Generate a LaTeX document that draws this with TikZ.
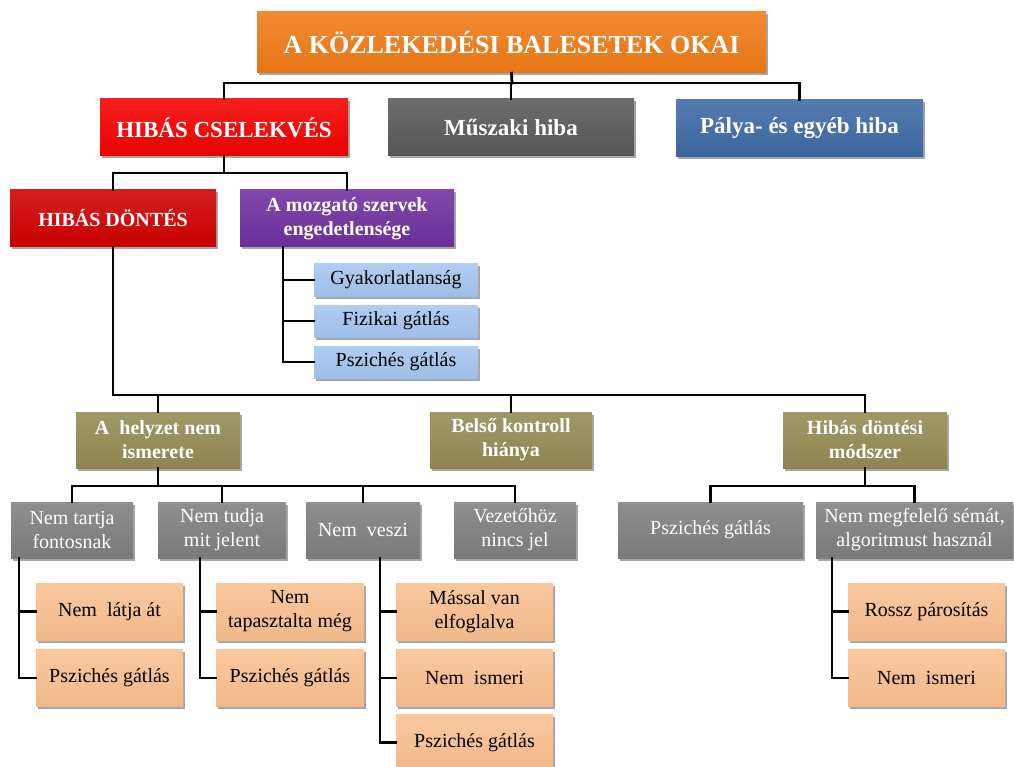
\documentclass[tikz,border=0pt]{standalone}
\usepackage{fontspec}
\setmainfont{Liberation Serif}
\usetikzlibrary{shadows}

\definecolor{cTitle}{RGB}{240,122,22}
\definecolor{cRed}{RGB}{245,0,0}
\definecolor{cDarkRed}{RGB}{208,0,0}
\definecolor{cSteel}{RGB}{89,89,89}
\definecolor{cBlue}{RGB}{62,106,165}
\definecolor{cPurple}{RGB}{112,48,160}
\definecolor{cSky}{RGB}{165,198,240}
\definecolor{cOlive}{RGB}{148,138,84}
\definecolor{cGray}{RGB}{127,127,127}
\definecolor{cPeach}{RGB}{250,192,144}

\tikzset{
  base/.style={inner sep=2pt, align=center,
    drop shadow={shadow xshift=2pt, shadow yshift=-2.5pt, fill=black, opacity=0.35}},
  shade/.style={top color=#1!88!white, bottom color=#1!96!black},
  titlebox/.style={base, shade=cTitle, text=white,
    font=\bfseries\fontsize{26}{30}\selectfont},
  headbox/.style={base, shade=#1, text=white,
    font=\bfseries\fontsize{23}{26}\selectfont},
  subbox/.style={base, shade=#1, text=white,
    font=\bfseries\fontsize{20}{24}\selectfont},
  skybox/.style={base, shade=cSky, text=black,
    font=\fontsize{20}{24}\selectfont},
  graybox/.style={base, shade=cGray, text=white,
    font=\fontsize{20}{24}\selectfont},
  peachbox/.style={base, shade=cPeach, text=black,
    font=\fontsize{20}{24}\selectfont},
  link/.style={draw=black, line width=2.8pt, line cap=rect}
}

\begin{document}
\begin{tikzpicture}[x=1pt, y=-1pt]
\useasboundingbox (0,0) rectangle (1014,767);

% main title
\node[titlebox, minimum width=509, minimum height=61] (title) at (511.5,42.5)
  {A KÖZLEKEDÉSI BALESETEK OKAI};

% first level
\node[headbox=cRed, minimum width=248, minimum height=57] (hc) at (224,127.5) {HIBÁS CSELEKVÉS};
\node[headbox=cSteel, minimum width=246, minimum height=57] (mu) at (511,127.5) {Műszaki hiba};
\node[headbox=cBlue, minimum width=247, minimum height=57] (pa) at (799.5,128) {Pálya- és egyéb hiba};

% second level
\node[subbox=cDarkRed, minimum width=206, minimum height=57] (hd) at (113,218.5) {HIBÁS DÖNTÉS};
\node[subbox=cPurple, minimum width=214, minimum height=57] (mo) at (347,218.5) {A mozgató szervek\\engedetlensége};

% causes of the motor organs
\node[skybox, minimum width=164, minimum height=32] (b1) at (396,280) {Gyakorlatlanság};
\node[skybox, minimum width=164, minimum height=32] (b2) at (396,321) {Fizikai gátlás};
\node[skybox, minimum width=164, minimum height=32] (b3) at (396,362) {Pszichés gátlás};

% third level
\node[subbox=cOlive, minimum width=164, minimum height=56] (ah) at (158,440) {A\ \ helyzet nem\\ismerete};
\node[subbox=cOlive, minimum width=162, minimum height=56] (bk) at (511,440) {Belső kontroll\\hiánya};
\node[subbox=cOlive, minimum width=164, minimum height=56] (hm) at (865,440) {Hibás döntési\\módszer};

% fourth level
\node[graybox, minimum width=122, minimum height=56] (g1) at (72,530) {Nem tartja\\fontosnak};
\node[graybox, minimum width=128, minimum height=56] (g2) at (222,530) {Nem tudja\\mit jelent};
\node[graybox, minimum width=114, minimum height=56] (g3) at (363,530) {Nem\ \ veszi};
\node[graybox, minimum width=122, minimum height=56] (g4) at (515,530) {Vezetőhöz\\nincs jel};
\node[graybox, minimum width=185, minimum height=56] (p1) at (710.5,530) {Pszichés gátlás};
\node[graybox, minimum width=197, minimum height=56] (p2) at (914.5,530) {Nem megfelelő sémát,\\algoritmust használ};

% fifth level
\node[peachbox, minimum width=147, minimum height=57] (o11) at (109.5,611.5) {Nem\ \ látja át};
\node[peachbox, minimum width=147, minimum height=57] (o12) at (109.5,678) {Pszichés gátlás};
\node[peachbox, minimum width=148, minimum height=57] (o21) at (290,611.5) {Nem\\tapasztalta még};
\node[peachbox, minimum width=148, minimum height=57] (o22) at (290,678) {Pszichés gátlás};
\node[peachbox, minimum width=157, minimum height=57] (o31) at (474.5,611.5) {Mással van\\elfoglalva};
\node[peachbox, minimum width=157, minimum height=57] (o32) at (474.5,678) {Nem\ \ ismeri};
\node[peachbox, minimum width=157, minimum height=57] (o33) at (474.5,742.5) {Pszichés gátlás};
\node[peachbox, minimum width=157, minimum height=57] (o41) at (926.5,611.5) {Rossz párosítás};
\node[peachbox, minimum width=157, minimum height=57] (o42) at (926.5,678) {Nem\ \ ismeri};

% bus bars and bracket trunks
\coordinate (bus1) at (512,83);
\coordinate (bus2) at (224,173);
\coordinate (bus3) at (0,395);
\coordinate (bus4) at (0,486);
\coordinate (moT) at (283,247);
\coordinate (g1T) at (19,558);
\coordinate (g2T) at (200,558);
\coordinate (g3T) at (380,558);
\coordinate (p2T) at (832,558);

% title to first level
\draw[link] (title.south) -- (bus1);
\draw[link] (hc.north) |- (bus1) -| (pa.north);
\draw[link] (mu.north) -- (mu.north |- bus1);

% faulty action to second level
\draw[link] (hc.south) -- (bus2);
\draw[link] (hd.north) |- (bus2) -| (mo.north);

% motor organs bracket
\draw[link] (moT) |- (b3.west);
\draw[link] (moT |- b1.west) -- (b1.west);
\draw[link] (moT |- b2.west) -- (b2.west);

% faulty decision to third level
\draw[link] (hd.south) |- (hm.north |- bus3) -- (hm.north);
\draw[link] (ah.north) -- (ah.north |- bus3);
\draw[link] (bk.north) -- (bk.north |- bus3);

% situation unknown to fourth level
\draw[link] (ah.south) -- (ah.south |- bus4);
\draw[link] (g1.north) |- (g4.north |- bus4) -- (g4.north);
\draw[link] (g2.north) -- (g2.north |- bus4);
\draw[link] (g3.north) -- (g3.north |- bus4);

% faulty method to fourth level
\draw[link] (hm.south) -- (hm.south |- bus4);
\draw[link] (p1.north) |- (p2.north |- bus4) -- (p2.north);

% brackets of the fifth level
\draw[link] (g1T) |- (o12.west);
\draw[link] (g1T |- o11.west) -- (o11.west);
\draw[link] (g2T) |- (o22.west);
\draw[link] (g2T |- o21.west) -- (o21.west);
\draw[link] (g3T) |- (o33.west);
\draw[link] (g3T |- o31.west) -- (o31.west);
\draw[link] (g3T |- o32.west) -- (o32.west);
\draw[link] (p2T) |- (o42.west);
\draw[link] (p2T |- o41.west) -- (o41.west);
\end{tikzpicture}
\end{document}
